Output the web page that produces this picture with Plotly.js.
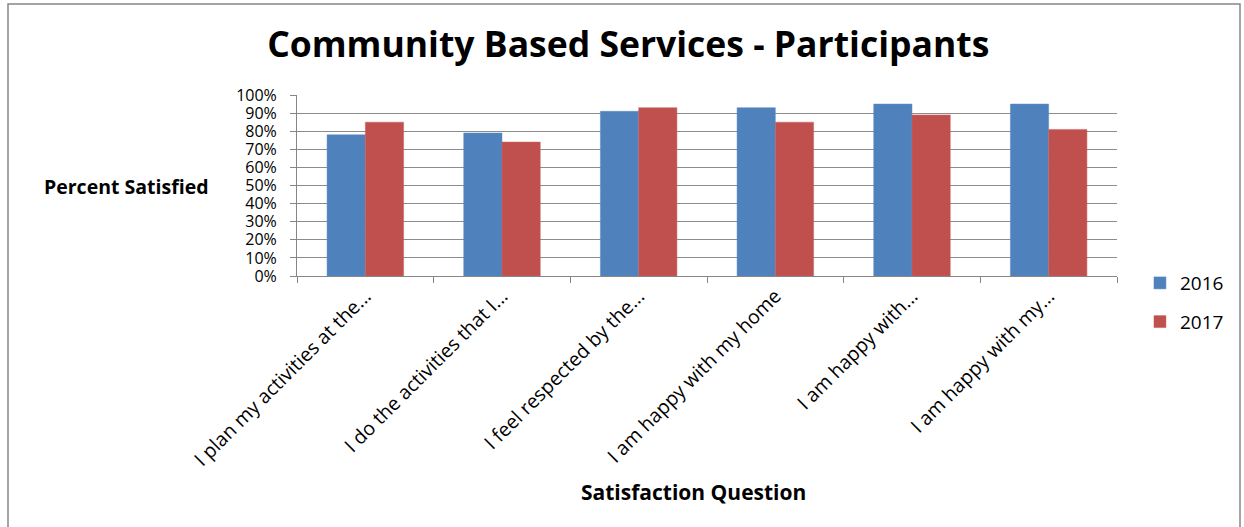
<!DOCTYPE html>
<html>
<head>
<meta charset="utf-8">
<script src="https://cdn.plot.ly/plotly-3.0.1.min.js"></script>
<style>
html,body{margin:0;padding:0;background:#fff;}
#chart{width:1244px;height:527px;}
</style>
</head>
<body>
<div id="chart"></div>
<script>
const categories = [
  "I plan my activities at the...",
  "I do the activities that I...",
  "I feel respected by the...",
  "I am happy with my home",
  "I am happy with...",
  "I am happy with my..."
];
const values2016 = [0.78, 0.79, 0.91, 0.93, 0.95, 0.95];
const values2017 = [0.85, 0.74, 0.93, 0.85, 0.89, 0.81];
const seriesNames = ["2016", "2017"];

const fontFam = "'Open Sans', sans-serif";

const traces = [
  {type:'bar', name:seriesNames[0], x:categories, y:values2016,
   marker:{color:'#4f81bd', line:{color:'#5b8cc6', width:0.5}}, legendgroup:'a'},
  {type:'bar', name:seriesNames[1], x:categories, y:values2017,
   marker:{color:'#c0504d', line:{color:'#c96563', width:0.5}}, legendgroup:'b'}
];

const layout = {
  width:1244, height:527,
  margin:{l:297, r:127, t:95, b:251, pad:0},
  paper_bgcolor:'#fff', plot_bgcolor:'#fff',
  font:{family:fontFam, color:'#000'},
  title:{text:'<b>Community Based Services - Participants</b>', x:0.505, xanchor:'center', y:0.915, yanchor:'middle',
         font:{size:35.5, family:fontFam, color:'#000'}},
  barmode:'group', bargap:0.44, bargroupgap:0,
  xaxis:{type:'category', showgrid:false, showline:true, linecolor:'#868686', linewidth:1,
         ticks:'outside', tickson:'boundaries', ticklen:6, tickcolor:'#868686',
         tickangle:-45, tickfont:{size:19.5, family:fontFam, color:'#000'}},
  yaxis:{range:[0,1], dtick:0.1, tickformat:'.0%', showgrid:true, gridcolor:'#8c8c8c', gridwidth:1,
         showline:true, linecolor:'#868686', ticks:'outside', ticklen:6, tickcolor:'#868686',
         ticklabelstandoff:10,
         tickfont:{size:16, family:fontFam, color:'#000'}, zeroline:false},
  showlegend:true,
  legend:{x:1.028, xanchor:'left', y:0.066, yanchor:'top', traceorder:'grouped', tracegroupgap:11,
          font:{size:19, family:fontFam, color:'#000'}, itemwidth:30},
  annotations:[
    {text:'<b>Percent Satisfied</b>', xref:'paper', yref:'paper', x:(42-297)/820, y:(276-186)/181,
     xanchor:'left', yanchor:'middle', showarrow:false, font:{size:19.5, family:fontFam, color:'#000'}},
    {text:'<b>Satisfaction Question</b>', xref:'paper', yref:'paper', x:(693-297)/820, y:(276-492)/181,
     xanchor:'center', yanchor:'middle', showarrow:false, font:{size:21, family:fontFam, color:'#000'}}
  ],
  shapes:[
    {type:'rect', xref:'paper', yref:'paper', x0:(8-297)/820, x1:(1240-297)/820, y0:-2, y1:(276-4)/181,
     line:{color:'#868686', width:1.5}, fillcolor:'rgba(0,0,0,0)', layer:'below'}
  ]
};

Plotly.newPlot('chart', traces, layout, {displayModeBar:false, staticPlot:true});
</script>
</body>
</html>
